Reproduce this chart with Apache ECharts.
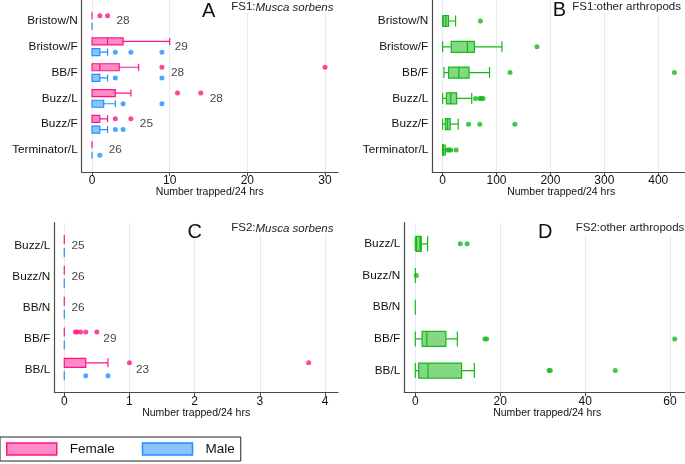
<!DOCTYPE html>
<html>
<head>
<meta charset="utf-8">
<script src="https://cdn.jsdelivr.net/npm/echarts@6/dist/echarts.min.js"></script>
<style>
html, body { margin: 0; padding: 0; background: #fff; }
#main { width: 685px; height: 464px; }
</style>
</head>
<body>
<div id="main"></div>
<script>
// FS1 sites (panels A and B)
const fs1Sites = ['Bristow/N', 'Bristow/F', 'BB/F', 'Buzz/L', 'Buzz/F', 'Terminator/L'];
// boxes are [min, Q1, median, Q3, max]
const fs1FemaleBox = [[0, 0, 0, 0, 0], [0, 0, 2, 4, 10], [0, 0, 1, 3.5, 6], [0, 0, 0, 3, 5], [0, 0, 0, 1, 2], [0, 0, 0, 0, 0]];
const fs1MaleBox = [[0, 0, 0, 0, 0], [0, 0, 0, 1, 2], [0, 0, 0, 1, 2], [0, 0, 0, 1.5, 3], [0, 0, 0, 1, 2], [0, 0, 0, 0, 0]];
// outliers are [value, site index]
const fs1FemaleOut = [[1, 0], [2, 0], [9, 2], [30, 2], [11, 3], [14, 3], [3, 4], [5, 4]];
const fs1MaleOut = [[3, 1], [5, 1], [9, 1], [3, 2], [9, 2], [4, 3], [9, 3], [3, 4], [4, 4], [1, 5]];
const fs1N = [28, 29, 28, 28, 25, 26];
const fs1NAt = [4, 11.5, 11, 16, 7, 3];

const fs1OtherBox = [[0, 1, 6, 11, 24], [0, 16, 46, 59, 110], [2.5, 11, 30, 49, 87], [0, 7, 15, 26, 54], [0, 5, 9, 14, 29], [0, 0, 1, 2, 5]];
const fs1OtherOut = [[70, 0], [175, 1], [125, 2], [430, 2], [61, 3], [69, 3], [72, 3], [75, 3],
  [48, 4], [69, 4], [134, 4], [9, 5], [12, 5], [15, 5], [25, 5]];

// FS2 sites (panels C and D)
const fs2Sites = ['Buzz/L', 'Buzz/N', 'BB/N', 'BB/F', 'BB/L'];
const fs2FemaleBox = [[0, 0, 0, 0, 0], [0, 0, 0, 0, 0], [0, 0, 0, 0, 0], [0, 0, 0, 0, 0], [0, 0, 0, 0.33, 0.67]];
const fs2MaleBox = [[0, 0, 0, 0, 0], [0, 0, 0, 0, 0], [0, 0, 0, 0, 0], [0, 0, 0, 0, 0], [0, 0, 0, 0, 0]];
const fs2FemaleOut = [[0.17, 3], [0.2, 3], [0.25, 3], [0.33, 3], [0.5, 3], [1, 4], [3.75, 4]];
const fs2MaleOut = [[0.33, 4], [0.67, 4]];
const fs2N = [25, 26, 26, 29, 23];
const fs2NAt = [0.21, 0.21, 0.21, 0.7, 1.2];

const fs2OtherBox = [[0, 0.3, 1.1, 1.4, 2.9], [0, 0, 0, 0, 0], [0, 0, 0, 0, 0], [0, 1.6, 2.7, 7.2, 9.9], [0, 0.8, 3, 10.9, 13.9]];
const fs2OtherOut = [[10.6, 0], [12.2, 0], [0.25, 1], [16.4, 3], [16.8, 3], [61.1, 3], [31.5, 4], [31.8, 4], [47.1, 4]];

const ticksA = [0, 10, 20, 30];
const ticksB = [0, 100, 200, 300, 400];
const ticksC = [0, 1, 2, 3, 4];
const ticksD = [0, 20, 40, 60];

const FONT = '"Liberation Sans", Arial, Helvetica, sans-serif';
const pink = '#fa1586', pinkFill = '#ff8ac4';
const blue = '#1e90ff', blueFill = '#8ac4fb';
const green = '#16b816', greenFill = '#84d884';
const axisColor = '#4a4a4a';

const grid = [], xAxis = [], yAxis = [], series = [];

function addPanel(p) {
  const fi = grid.length, di = fi + 1;
  grid.push({ left: p.left, top: p.top, width: p.width, height: p.height, outerBoundsMode: 'none' });
  grid.push({ left: p.left, top: p.dataTop, width: p.width, height: p.dataHeight, outerBoundsMode: 'none' });
  xAxis.push({
    gridIndex: fi, type: 'value', min: p.min, max: p.max,
    name: 'Number trapped/24 hrs', nameLocation: 'middle', nameGap: 15, nameMoveOverlap: false,
    nameTextStyle: { fontSize: 10.5, color: '#111', fontFamily: FONT },
    axisLine: { onZero: false, lineStyle: { color: axisColor, width: 1.2 } },
    axisTick: { customValues: p.ticks, length: 4, lineStyle: { color: axisColor } },
    axisLabel: { customValues: p.ticks, margin: 3, fontSize: 12, color: '#111', fontFamily: FONT },
    splitLine: { show: true, lineStyle: { color: '#e2edef', width: 1 } }
  });
  xAxis.push({ gridIndex: di, type: 'value', min: p.min, max: p.max, show: false });
  yAxis.push({
    gridIndex: fi, type: 'value', min: 0, max: 1,
    axisLine: { show: true, onZero: false, lineStyle: { color: axisColor, width: 1.2 } },
    axisTick: { show: false }, axisLabel: { show: false }, splitLine: { show: false }
  });
  yAxis.push({
    gridIndex: di, type: 'category', inverse: true, data: p.cats,
    axisLine: { show: false }, axisTick: { show: false }, splitLine: { show: false },
    axisLabel: { margin: 4, fontSize: 11.8, color: '#111', fontFamily: FONT }
  });
  const ax = { xAxisIndex: di, yAxisIndex: di, silent: true };
  p.groups.forEach(function (g) {
    series.push(Object.assign({
      type: 'boxplot', name: g.name, layout: 'horizontal', data: g.box,
      boxWidth: [g.boxW, g.boxW],
      itemStyle: { color: g.fill, borderColor: g.line, borderWidth: 1.2 }
    }, ax));
    series.push(Object.assign({
      type: 'scatter', data: g.out, symbolSize: 5, symbolOffset: [0, g.off],
      itemStyle: { color: g.line }
    }, ax));
  });
  if (p.n) {
    series.push(Object.assign({
      type: 'scatter', data: p.cats.map(function (c, i) { return [p.nAt[i], i, p.n[i]]; }),
      symbolSize: 1, itemStyle: { color: 'transparent' },
      label: {
        show: true, position: 'inside', color: '#111', fontSize: 11.8, fontFamily: FONT,
        formatter: function (d) { return d.value[2]; }
      }
    }, ax));
  }
}

addPanel({
  left: 81.7, top: 0, width: 256.3, height: 172, dataTop: 8.1, dataHeight: 154.8,
  min: -1.33, max: 31.67, ticks: ticksA, cats: fs1Sites, n: fs1N, nAt: fs1NAt,
  groups: [
    { name: 'Female', box: fs1FemaleBox, out: fs1FemaleOut, fill: pinkFill, line: pink, boxW: 7, off: -5.36 },
    { name: 'Male', box: fs1MaleBox, out: fs1MaleOut, fill: blueFill, line: blue, boxW: 7, off: 5.36 }
  ]
});
addPanel({
  left: 432.3, top: 0, width: 257.7, height: 172, dataTop: 8.1, dataHeight: 154.8,
  min: -19.17, max: 458.9, ticks: ticksB, cats: fs1Sites,
  groups: [
    { name: 'FS1 other arthropods', box: fs1OtherBox, out: fs1OtherOut, fill: greenFill, line: green, boxW: 11, off: 0 }
  ]
});
addPanel({
  left: 54.3, top: 222.7, width: 283.7, height: 169.6, dataTop: 230.6, dataHeight: 154.1,
  min: -0.153, max: 4.2, ticks: ticksC, cats: fs2Sites, n: fs2N, nAt: fs2NAt,
  groups: [
    { name: 'Female', box: fs2FemaleBox, out: fs2FemaleOut, fill: pinkFill, line: pink, boxW: 9, off: -6.5 },
    { name: 'Male', box: fs2MaleBox, out: fs2MaleOut, fill: blueFill, line: blue, boxW: 9, off: 6.5 }
  ]
});
addPanel({
  left: 404.3, top: 222.7, width: 285.7, height: 169.6, dataTop: 228, dataHeight: 158.4,
  min: -2.59, max: 64.7, ticks: ticksD, cats: fs2Sites,
  groups: [
    { name: 'FS2 other arthropods', box: fs2OtherBox, out: fs2OtherOut, fill: greenFill, line: green, boxW: 15, off: 0 }
  ]
});

function panelTitle(letter, lx, ly, head, species, tx, ty, align) {
  return [
    { type: 'text', x: lx, y: ly, silent: true, z: 100,
      style: { text: letter, fontSize: 20, fontFamily: FONT, fill: '#111', align: 'center', verticalAlign: 'middle' } },
    { type: 'text', x: tx, y: ty, silent: true, z: 100,
      style: {
        text: '{n|' + head + '}' + (species ? '{i|' + species + '}' : ''),
        align: align, verticalAlign: 'middle', backgroundColor: '#fff',
        rich: {
          n: { fontSize: 11.5, fontFamily: FONT, fill: '#222' },
          i: { fontSize: 11.5, fontFamily: FONT, fontStyle: 'italic', fill: '#222' }
        }
      } }
  ];
}

const graphic = [].concat(
  panelTitle('A', 208.7, 11, 'FS1:', 'Musca sorbens', 333.5, 7.3, 'right'),
  panelTitle('B', 559.5, 10.3, 'FS1:other arthropods', '', 572.3, 7.3, 'left'),
  panelTitle('C', 194.7, 232, 'FS2:', 'Musca sorbens', 333.5, 228.3, 'right'),
  panelTitle('D', 545.2, 232.2, 'FS2:other arthropods', '', 575.7, 228.3, 'left')
);

const chart = echarts.init(document.getElementById('main'), null, { renderer: 'canvas' });
chart.setOption({
  animation: false,
  backgroundColor: '#fff',
  grid: grid, xAxis: xAxis, yAxis: yAxis, series: series, graphic: graphic,
  legend: {
    left: 0, top: 437, selectedMode: false, icon: 'rect',
    itemWidth: 50, itemHeight: 12, itemGap: 27, padding: [5, 6, 5, 6],
    borderColor: '#222', borderWidth: 1,
    textStyle: { fontSize: 13.5, color: '#111', fontFamily: FONT, padding: [0, 0, 0, 8] },
    data: [
      { name: 'Female', itemStyle: { color: pinkFill, borderColor: pink, borderWidth: 1.5 } },
      { name: 'Male', itemStyle: { color: blueFill, borderColor: blue, borderWidth: 1.5 } }
    ]
  }
});
</script>
</body>
</html>
